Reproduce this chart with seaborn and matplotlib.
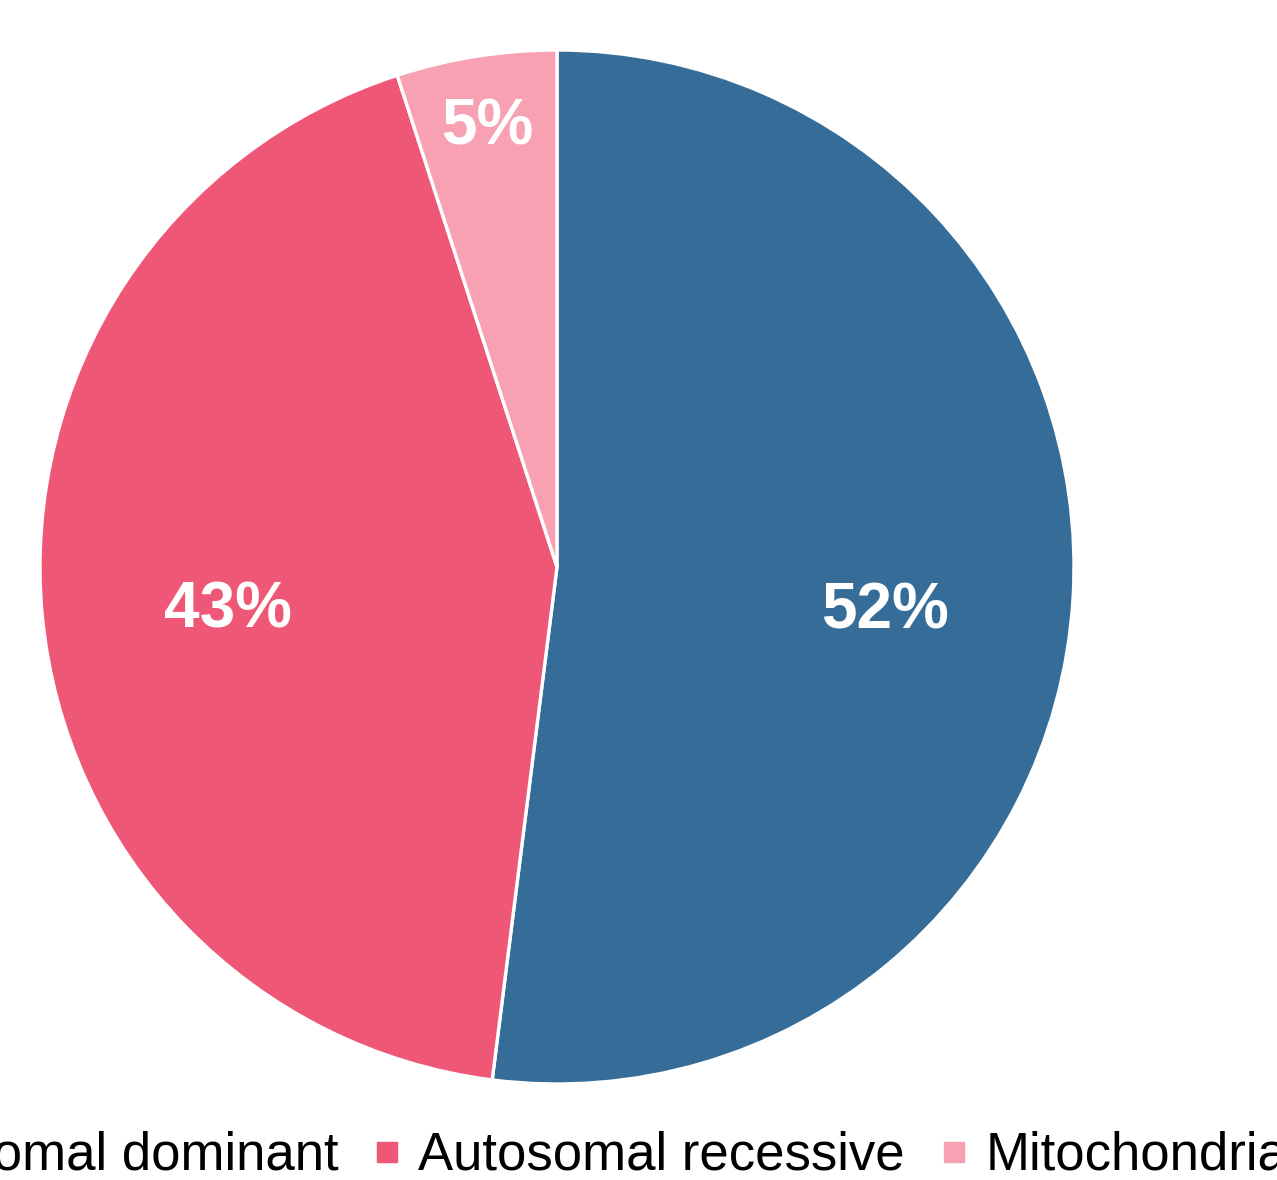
import numpy as np
import matplotlib
matplotlib.use("Agg")
import matplotlib.pyplot as plt
from matplotlib.lines import Line2D
import seaborn as sns

# Inheritance pattern shares (percent)
categories = ["Autosomal dominant", "Autosomal recessive", "Mitochondrial"]
shares = [52, 43, 5]
labels = ["52%", "43%", "5%"]
colors = ["#356D98", "#EF5777", "#F7A1B3"]

sns.set_theme(style="white")
plt.rcParams["font.family"] = ["Liberation Sans", "DejaVu Sans"]
plt.rcParams["text.color"] = "black"

W, H = 1277, 1180
fig = plt.figure(figsize=(W / 100, H / 100), dpi=100)
cx, cy, r = 557, 567, 517
ax = fig.add_axes([(cx - r) / W, (H - cy - r) / H, 2 * r / W, 2 * r / H])

wedges, _ = ax.pie(
    shares,
    colors=colors,
    startangle=90,
    counterclock=False,
    radius=1.0,
    wedgeprops=dict(edgecolor="white", linewidth=2.4),
)
ax.set_xlim(-1, 1)
ax.set_ylim(-1, 1)
ax.set_aspect("equal")
ax.axis("off")

# label placement along each wedge's bisector
label_dist = [0.635, 0.64, 0.86]
label_dy = [-0.046, -0.023, 0.0]
for w, txt, d, dy in zip(wedges, labels, label_dist, label_dy):
    mid = np.deg2rad((w.theta1 + w.theta2) / 2)
    ax.text(d * np.cos(mid), d * np.sin(mid) + dy, txt,
            ha="center", va="center", color="white",
            fontsize=46, fontweight="bold")

handles = [Line2D([0], [0], marker="s", linestyle="none", markersize=15,
                  markerfacecolor=c, markeredgecolor=c) for c in colors]
leg = fig.legend(handles, categories, loc="center", ncol=3,
                 bbox_to_anchor=(cx / W, 1 - 1156 / H),
                 frameon=False, fontsize=38, handlelength=0.4,
                 handletextpad=0.4, columnspacing=0.72, borderaxespad=0)
for t in leg.get_texts():
    t.set_color("black")

fig.savefig("out.png", dpi=100, facecolor="white")
